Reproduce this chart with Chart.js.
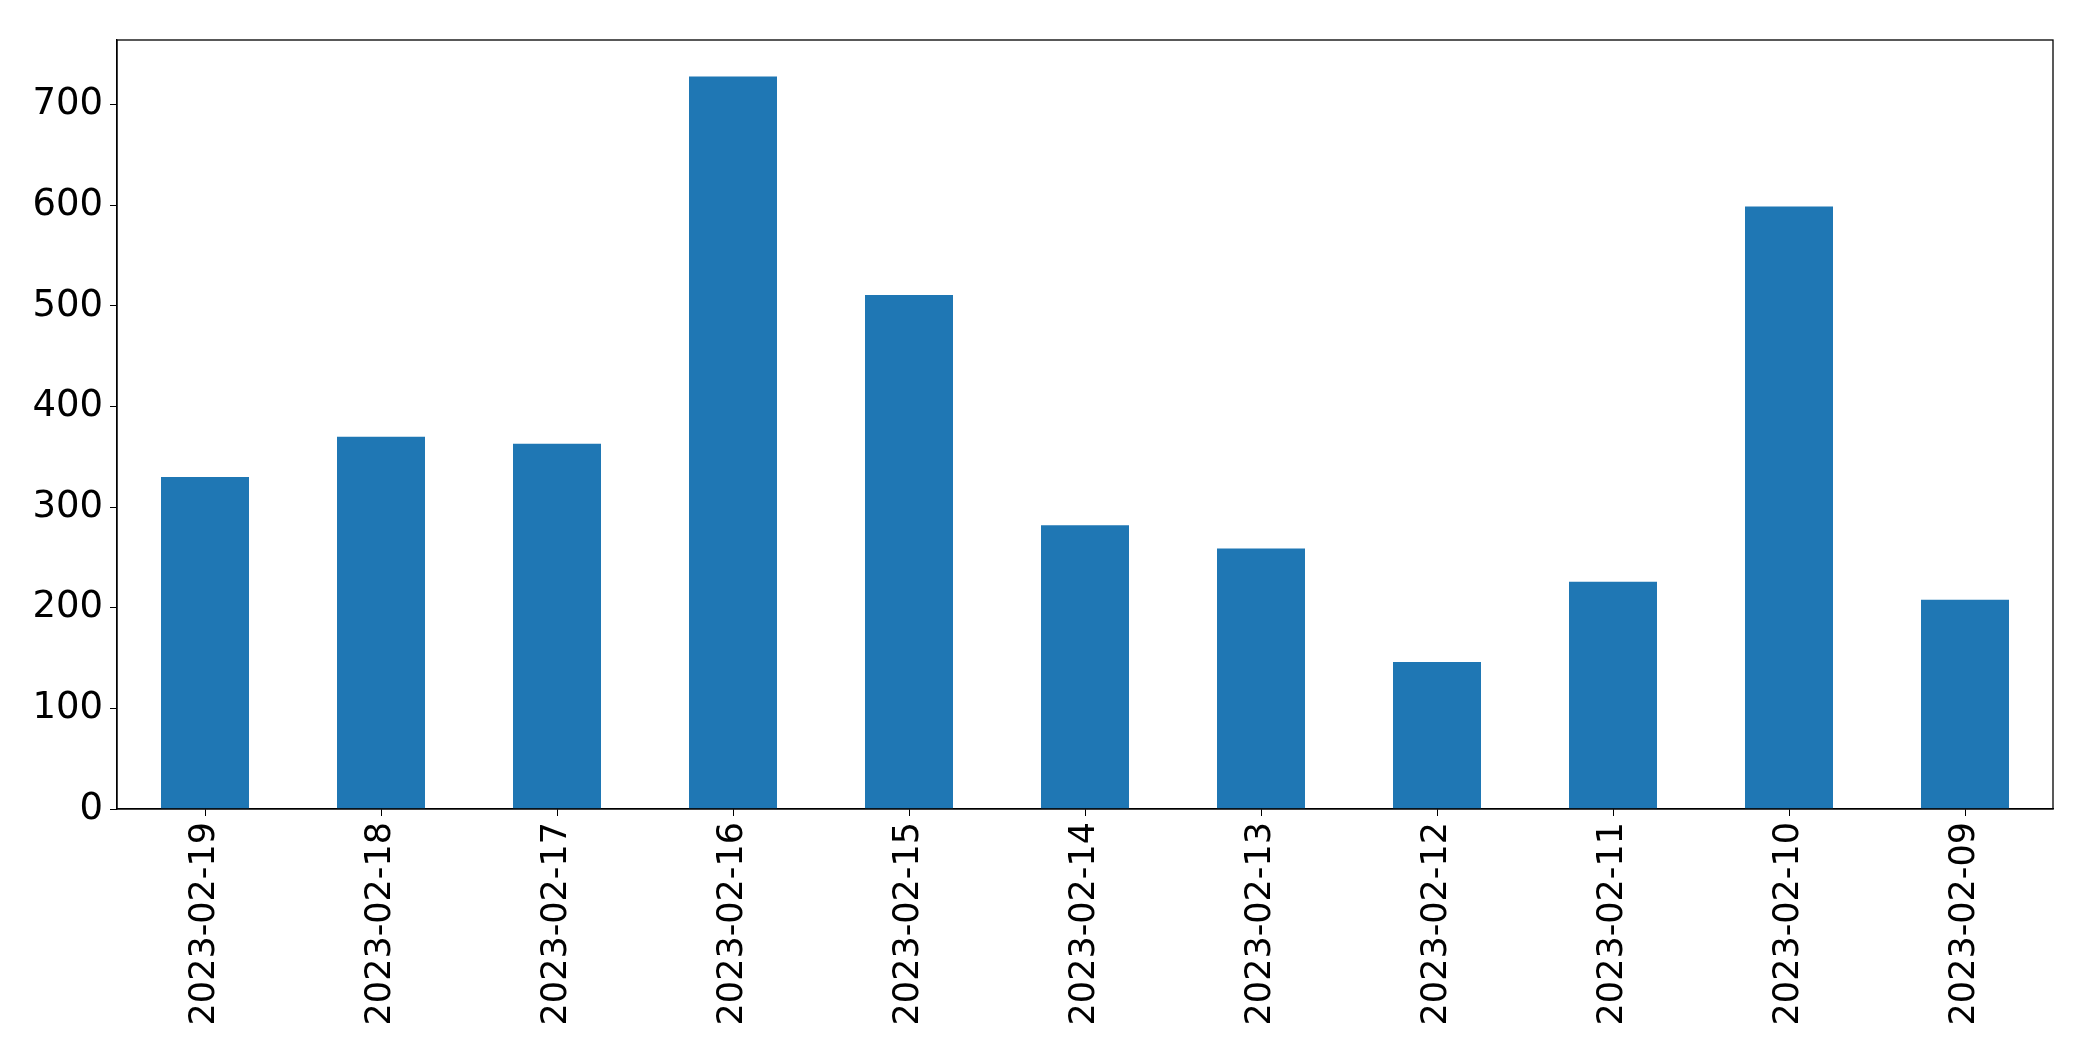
<!DOCTYPE html>
<html>
<head>
<meta charset="utf-8">
<script src="https://cdn.jsdelivr.net/npm/chart.js@4/dist/chart.umd.min.js"></script>
<style>
  html, body { margin: 0; padding: 0; background: #ffffff; }
  #wrap { width: 2093px; height: 1061px; position: relative; }
</style>
</head>
<body>
<div id="wrap"><canvas id="c" width="2093" height="1061"></canvas></div>
<script>
const categories = ["2023-02-19", "2023-02-18", "2023-02-17", "2023-02-16", "2023-02-15", "2023-02-14", "2023-02-13", "2023-02-12", "2023-02-11", "2023-02-10", "2023-02-09"];
const values = [330, 370, 363, 728, 511, 282, 259, 146, 226, 599, 208];
const yTicks = [0, 100, 200, 300, 400, 500, 600, 700];

const frame = {
  id: 'frame',
  afterDatasetsDraw(chart) {
    const a = chart.chartArea;
    const ctx = chart.ctx;
    ctx.save();
    ctx.strokeStyle = '#000000';
    ctx.lineWidth = 1.3;
    ctx.strokeRect(a.left, a.top, a.right - a.left, a.bottom - a.top);
    ctx.restore();
  }
};

new Chart(document.getElementById('c'), {
  type: 'bar',
  data: {
    labels: categories,
    datasets: [{
      data: values,
      backgroundColor: '#1f77b4',
      borderWidth: 0,
      barPercentage: 0.5,
      categoryPercentage: 1.0
    }]
  },
  options: {
    responsive: false,
    animation: false,
    devicePixelRatio: 1,
    layout: { padding: { top: 40, right: 40, left: 0, bottom: 0 } },
    plugins: { legend: { display: false }, tooltip: { enabled: false } },
    scales: {
      x: {
        offset: true,
        grid: { display: true, drawOnChartArea: false, drawTicks: true, tickLength: 7, color: '#000000', offset: false },
        border: { display: true, color: '#000000', width: 1.3 },
        ticks: {
          color: '#000000',
          font: { family: 'DejaVu Sans', size: 35 },
          minRotation: 90,
          maxRotation: 90,
          padding: 6,
          autoSkip: false
        },
        afterFit(axis) { axis.height = 252; }
      },
      y: {
        min: 0,
        max: 764.4,
        grid: { display: true, drawOnChartArea: false, drawTicks: true, tickLength: 7, color: '#000000' },
        border: { display: true, color: '#000000', width: 1.3 },
        afterBuildTicks(axis) { axis.ticks = yTicks.map(v => ({ value: v })); },
        ticks: {
          color: '#000000',
          font: { family: 'DejaVu Sans', size: 37 },
          padding: 7
        },
        afterFit(axis) { axis.width = 117; }
      }
    }
  },
  plugins: [frame]
});
</script>
</body>
</html>
